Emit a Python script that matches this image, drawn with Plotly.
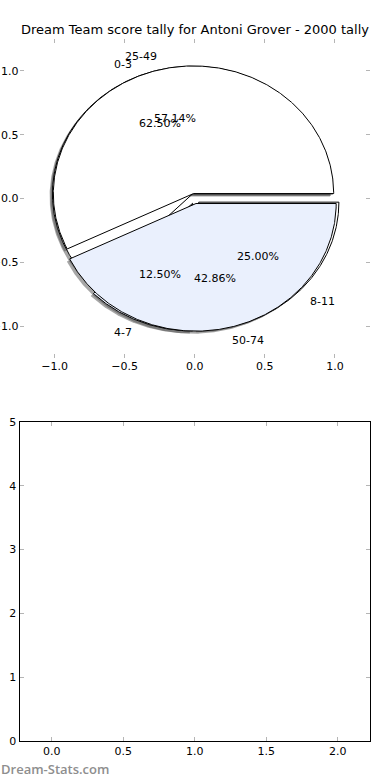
import numpy as np
import plotly.graph_objects as go

TITLE = "Dream Team score tally for Antoni Grover - 2000 tally"
WATERMARK = "Dream-Stats.com"

inner_labels = ["0-3", "4-7", "8-11"]
inner_values = [5, 1, 2]
outer_labels = ["25-49", "50-74"]
outer_values = [4, 3]

pie_ticks = [-1.0, -0.5, 0.0, 0.5, 1.0]
bottom_xticks = [0.0, 0.5, 1.0, 1.5, 2.0]
bottom_yticks = [0, 1, 2, 3, 4, 5]

inner_colors = ["#ffffff", "#eaf0fd", "#ffffff"]
outer_colors = ["#ffffff", "#eaf0fd"]
EXPLODE = 0.04
SHADOW_OFF = -0.02
LABEL_DIST = 1.1
PCT_DIST = 0.6
FONT = "DejaVu Sans"
TICKCOL = "#b5b5b5"


def wedges(values):
    total = float(sum(values))
    start = 0.0
    out = []
    for v in values:
        frac = v / total
        th1, th2 = start, start + 360.0 * frac
        mid = np.deg2rad((th1 + th2) / 2)
        cx, cy = EXPLODE * np.cos(mid), EXPLODE * np.sin(mid)
        n = max(int(abs(th2 - th1) * 2), 12)
        t = np.deg2rad(np.linspace(th1, th2, n))
        xs = np.concatenate([[cx], cx + np.cos(t), [cx]])
        ys = np.concatenate([[cy], cy + np.sin(t), [cy]])
        out.append(dict(xs=xs, ys=ys, mid=mid, cx=cx, cy=cy, frac=frac))
        start = th2
    return out


fig = go.Figure()
pies = [
    (inner_labels, inner_values, inner_colors),
    (outer_labels, outer_values, outer_colors),
]
computed = [wedges(v) for _, v, _ in pies]

# shadows first (under all wedges)
for ws in computed:
    for w in ws:
        fig.add_trace(go.Scatter(
            x=w["xs"] + SHADOW_OFF, y=w["ys"] + SHADOW_OFF, mode="lines",
            fill="toself", fillcolor="rgba(77,77,77,0.5)",
            line=dict(width=0), hoverinfo="skip", showlegend=False,
            xaxis="x", yaxis="y"))

annotations = []
for (labels, values, colors), ws in zip(pies, computed):
    for lab, col, w in zip(labels, colors, ws):
        fig.add_trace(go.Scatter(
            x=w["xs"], y=w["ys"], mode="lines", fill="toself",
            fillcolor=col, line=dict(color="black", width=1),
            hoverinfo="skip", showlegend=False, xaxis="x", yaxis="y"))
        lx = w["cx"] + LABEL_DIST * np.cos(w["mid"])
        ly = w["cy"] + LABEL_DIST * np.sin(w["mid"])
        annotations.append(dict(
            x=lx, y=ly, xref="x", yref="y", text=lab, showarrow=False,
            xanchor="left" if lx > 0 else "right", yanchor="middle",
            font=dict(family=FONT, size=11, color="black")))
        px = w["cx"] + PCT_DIST * np.cos(w["mid"])
        py = w["cy"] + PCT_DIST * np.sin(w["mid"])
        annotations.append(dict(
            x=px, y=py, xref="x", yref="y", text=f"{100 * w['frac']:.2f}%",
            showarrow=False, xanchor="center", yanchor="middle",
            font=dict(family=FONT, size=11, color="black")))

# empty lower axes (no data drawn there)
fig.add_trace(go.Scatter(x=[], y=[], mode="markers", showlegend=False,
                         hoverinfo="skip", xaxis="x2", yaxis="y2"))

annotations.append(dict(
    x=0.4994, y=1 - 30 / 780, xref="paper", yref="paper", text=TITLE,
    showarrow=False, xanchor="center", yanchor="middle",
    font=dict(family=FONT, size=13, color="black")))
annotations.append(dict(
    x=0.0, y=1 - 769 / 780, xref="paper", yref="paper", text=WATERMARK,
    showarrow=False, xanchor="left", yanchor="middle", borderpad=0,
    font=dict(family="Open Sans", size=13, weight=600, color="#8e8e8e")))

XDOM = [0.05, 0.9487]
common = dict(ticks="inside", ticklen=4, tickcolor=TICKCOL, tickwidth=1,
              showgrid=False, zeroline=False, mirror="ticks", automargin=False,
              tickfont=dict(family=FONT, size=11, color="black"))

fig.update_layout(
    width=390, height=780, margin=dict(l=0, r=0, t=0, b=0),
    paper_bgcolor="white", plot_bgcolor="white", showlegend=False,
    annotations=annotations,
    xaxis=dict(domain=XDOM, range=[-1.25, 1.25], anchor="y",
               tickvals=pie_ticks, tickformat=".1f", showline=False, **common),
    yaxis=dict(domain=[0.5409, 0.95], range=[-1.25, 1.25], anchor="x",
               tickvals=pie_ticks, tickformat=".1f", showline=False, **common),
    xaxis2=dict(domain=XDOM, range=[-0.225, 2.225], anchor="y2",
                tickvals=bottom_xticks, tickformat=".1f", showline=True,
                linecolor="black", linewidth=1, **common),
    yaxis2=dict(domain=[0.05, 0.4591], range=[0, 5], anchor="x2",
                tickvals=bottom_yticks, tickformat="d", showline=True,
                linecolor="black", linewidth=1, **common),
)

fig.write_html("out.html")
